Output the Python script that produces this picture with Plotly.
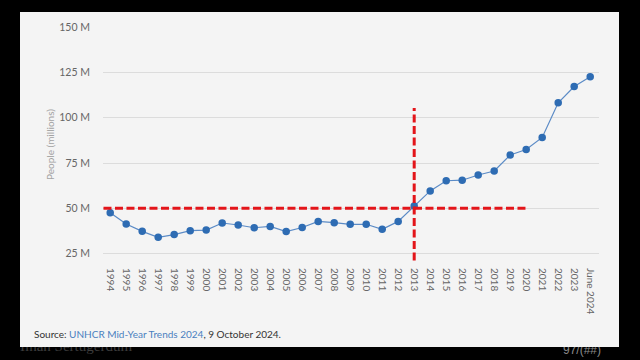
import plotly.graph_objects as go

# ---- data ----
years = ["1994", "1995", "1996", "1997", "1998", "1999", "2000", "2001", "2002",
         "2003", "2004", "2005", "2006", "2007", "2008", "2009", "2010", "2011",
         "2012", "2013", "2014", "2015", "2016", "2017", "2018", "2019", "2020",
         "2021", "2022", "2023", "June 2024"]
people_m = [47.6, 41.3, 37.3, 34.0, 35.5, 37.7, 38.0, 41.9, 40.8, 39.3, 40.0,
            37.2, 39.4, 42.8, 42.1, 41.2, 41.2, 38.4, 42.8, 51.3, 59.6, 65.2,
            65.5, 68.4, 70.6, 79.4, 82.4, 89.1, 108.2, 117.2, 122.5]
y_ticks = [25, 50, 75, 100, 125, 150]
threshold = 50
cross_year = "2013"
threshold_end_year = "2020"

W, H = 640, 360
PL, PR, PT, PB = 103, 599, 27, 262   # plot area in pixels


def fx(px):
    return px / W


def fy(py):
    return 1 - py / H


RED = "#e3151a"
PANEL = "#f4f4f4"

fig = go.Figure()

fig.add_trace(go.Scatter(
    x=years, y=people_m, mode="lines+markers",
    line=dict(color="#5b8bc6", width=1.2),
    marker=dict(color="#2e6cb3", size=7.5),
    hoverinfo="x+y", showlegend=False,
))

# slide overlay text (full-page pixel axes), partly hidden under the panel
fig.add_trace(go.Scatter(
    x=[20, 563], y=[347, 351], mode="text",
    text=["Ilhan Sertugerdum", "97/(##)"],
    textposition=["middle right", "middle right"],
    textfont=dict(family=["Liberation Serif", "Liberation Sans"], size=[15, 12],
                  color=["#3c3c3c", "#8a8a8a"]),
    xaxis="x2", yaxis="y2", cliponaxis=False, showlegend=False, hoverinfo="skip",
))

ci = years.index(cross_year)
ei = years.index(threshold_end_year)

shapes = [
    dict(type="rect", xref="paper", yref="paper",
         x0=fx(20), x1=fx(619), y0=fy(347), y1=fy(12),
         fillcolor=PANEL, line=dict(width=0), layer="below"),
    dict(type="rect", xref="paper", yref="paper",
         x0=fx(20), x1=fx(619), y0=fy(347), y1=fy(322),
         fillcolor=PANEL, line=dict(width=0), layer="above"),
    dict(type="line", xref="x", yref="y", x0=-0.42, x1=ei + 0.1,
         y0=threshold, y1=threshold,
         line=dict(color=RED, width=3, dash="8px,3.5px"), layer="above"),
    dict(type="line", xref="x", yref="y", x0=ci, x1=ci, y0=21.2, y1=105.3,
         line=dict(color=RED, width=3, dash="8px,3.5px"), layer="above"),
]

fig.update_layout(
    width=W, height=H,
    margin=dict(l=0, r=0, t=0, b=0, pad=0),
    paper_bgcolor="black", plot_bgcolor="rgba(0,0,0,0)",
    font=dict(family="Lato", color="#666666"),
    shapes=shapes,
    xaxis=dict(type="category", domain=[fx(PL), fx(PR)],
               range=[-0.45, len(years) - 0.45],
               showgrid=False, showline=False, zeroline=False,
               tickangle=90, tickfont=dict(size=10, color="#666666"),
               ticks="", ticklabelstandoff=5, fixedrange=True, automargin=False),
    yaxis=dict(domain=[fy(PB), fy(PT)], range=[20.4, 150], tickvals=y_ticks,
               ticktext=[f"{v} M" for v in y_ticks],
               showgrid=True, gridcolor="#dcdcdc", gridwidth=1,
               zeroline=False, showline=False, ticks="",
               ticklabelstandoff=12,
               tickfont=dict(size=10.5, color="#666666"),
               title=dict(text="People (millions)", standoff=2,
                          font=dict(size=10, color="#a3a3a3")),
               fixedrange=True, automargin=False),
    xaxis2=dict(domain=[0, 1], range=[0, W], anchor="y2", visible=False,
                fixedrange=True),
    yaxis2=dict(domain=[0, 1], range=[H, 0], anchor="x2", visible=False,
                fixedrange=True),
    annotations=[dict(
        xref="paper", yref="paper", x=fx(32), y=fy(334),
        xanchor="left", yanchor="middle", showarrow=False,
        text="Source: <span style='color:#4a7fbf'>UNHCR Mid-Year Trends 2024</span>, 9 October 2024.",
        font=dict(size=10, color="#333333", family="Lato"),
    )],
)

fig.write_html(
    "out.html",
    config={"displayModeBar": False},
    post_script="document.body.style.margin='0';document.body.style.background='black';document.body.style.overflow='hidden';",
)
